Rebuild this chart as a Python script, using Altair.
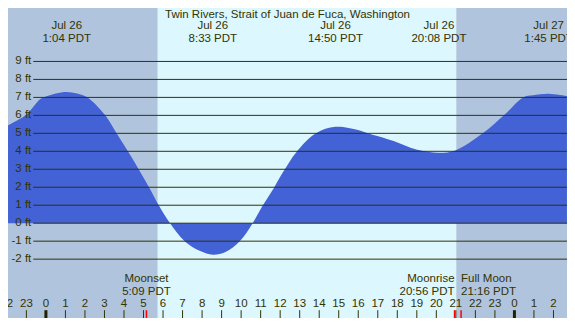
import altair as alt
import pandas as pd

# ---- data (hours after midnight Jul 26, PDT) ----
tide_hours = [-1.94, -1.0, -0.3, 0.0, 0.5, 1.07, 1.6, 2.13, 3.04, 3.62, 4.2, 4.78,
              5.36, 5.78, 6.36, 7.11, 7.9, 8.55, 9.2, 9.93, 10.59, 11.09, 11.67, 12.18,
              12.83, 13.83, 14.83, 15.99, 16.48, 17.81, 18.97, 20.13, 20.97, 22.38, 23.46,
              24.45, 24.95, 25.75, 26.69]
tide_ft = [5.45, 6.05, 6.9, 7.05, 7.22, 7.3, 7.22, 7.0, 6.0, 5.0, 4.0, 2.95,
           1.85, 1.0, 0.0, -1.0, -1.55, -1.75, -1.6, -1.0, 0.0, 0.95, 1.95, 2.9,
           3.95, 5.0, 5.36, 5.18, 5.0, 4.57, 4.1, 3.92, 4.05, 5.0, 6.0,
           7.0, 7.12, 7.2, 7.07]

extreme_hours = [1.067, 8.55, 14.833, 20.133, 25.75]
extreme_dates = ["Jul 26", "Jul 26", "Jul 26", "Jul 26", "Jul 27"]
extreme_times = ["1:04 PDT", "8:33 PDT", "14:50 PDT", "20:08 PDT", "1:45 PDT"]

sunrise_hour = 5.73
sunset_hour = 21.02

grid_ft = [-2, -1, 0, 1, 2, 3, 4, 5, 6, 7, 8, 9]
grid_labels = ["-2 ft", "-1 ft", "0 ft", "1 ft", "2 ft", "3 ft", "4 ft", "5 ft",
               "6 ft", "7 ft", "8 ft", "9 ft"]

hour_ticks = list(range(-2, 27))
hour_labels = [str(h % 24) for h in hour_ticks]

moon_hours = [5.15, 20.933, 21.267]
moon_names = ["Moonset", "Moonrise", "Full Moon"]
moon_times = ["5:09 PDT", "20:56 PDT", "21:16 PDT"]
moon_align = ["center", "right", "left"]

title_text = "Twin Rivers, Strait of Juan de Fuca, Washington"

# ---- layout / style ----
W, H = 559, 310
X_DOM = [-1.942, 26.693]
Y_DOM = [-5.275, 11.974]
LINE_START = -0.647
TITLE_FT = 11.612
EXT_FT = [10.945, 10.249]
MOON_FT = [-3.132, -3.828]
HOUR_FT = -4.523
TICK_TOP_FT = -4.84

NIGHT = "#B0C4DE"
DAY = "#DDF7FF"
TIDE = "#4262D6"
INK = "#333300"
FONT = "Liberation Sans"
FS = 11.5

xs = alt.Scale(domain=X_DOM, nice=False, zero=False)
ys = alt.Scale(domain=Y_DOM, nice=False, zero=False)
X = lambda f: alt.X(f, type="quantitative", scale=xs, axis=None)
Y = lambda f: alt.Y(f, type="quantitative", scale=ys, axis=None)

bg_df = pd.DataFrame({
    "s": [X_DOM[0], sunrise_hour, sunset_hour],
    "e": [sunrise_hour, sunset_hour, X_DOM[1]],
    "kind": ["night", "day", "night"],
})
bg = alt.Chart(bg_df).mark_rect().encode(
    x=X("s"), x2="e", y=alt.value(0), y2=alt.value(H),
    color=alt.Color("kind:N", scale=alt.Scale(domain=["night", "day"], range=[NIGHT, DAY]), legend=None),
)

tide_df = pd.DataFrame({"h": tide_hours, "ft": tide_ft})
area = alt.Chart(tide_df).mark_area(color=TIDE, interpolate="catmull-rom").encode(
    x=X("h"), y=Y("ft"), y2=alt.value(H)
)

grid_df = pd.DataFrame({"ft": grid_ft, "label": grid_labels,
                        "x0": LINE_START, "x1": X_DOM[1]})
grid = alt.Chart(grid_df).mark_rule(color=INK, strokeWidth=1).encode(
    x=X("x0"), x2="x1", y=Y("ft")
)
grid_text = alt.Chart(grid_df).mark_text(
    align="right", baseline="middle", dx=-2, font=FONT, fontSize=FS, color=INK
).encode(x=X("x0"), y=Y("ft"), text="label:N")

title_df = pd.DataFrame({"x": [(X_DOM[0] + X_DOM[1]) / 2], "y": [TITLE_FT], "t": [title_text]})
title = alt.Chart(title_df).mark_text(
    align="center", baseline="middle", font=FONT, fontSize=FS, color=INK
).encode(x=X("x"), y=Y("y"), text="t:N")

ext_rows = []
for h, d, t in zip(extreme_hours, extreme_dates, extreme_times):
    ext_rows.append({"h": h, "y": EXT_FT[0], "t": d})
    ext_rows.append({"h": h, "y": EXT_FT[1], "t": t})
ext = alt.Chart(pd.DataFrame(ext_rows)).mark_text(
    align="center", baseline="middle", font=FONT, fontSize=FS, color=INK
).encode(x=X("h"), y=Y("y"), text="t:N")

hour_df = pd.DataFrame({"h": hour_ticks, "label": hour_labels,
                        "y": HOUR_FT, "top": TICK_TOP_FT, "bot": Y_DOM[0]})
hour_text = alt.Chart(hour_df).mark_text(
    align="center", baseline="middle", font=FONT, fontSize=FS, color=INK
).encode(x=X("h"), y=Y("y"), text="label:N")
thin_ticks = alt.Chart(hour_df[hour_df["h"] % 24 != 0]).mark_rule(color=INK, strokeWidth=1).encode(
    x=X("h"), y=Y("top"), y2="bot"
)
mid_ticks = alt.Chart(hour_df[hour_df["h"] % 24 == 0]).mark_rule(color="#222200", strokeWidth=3).encode(
    x=X("h"), y=Y("top"), y2="bot"
)

moon_df = pd.DataFrame({"h": moon_hours, "name": moon_names, "time": moon_times,
                        "align": moon_align, "top": TICK_TOP_FT, "bot": Y_DOM[0]})
moon_ticks = alt.Chart(moon_df).mark_rule(color="#FF0000", strokeWidth=1.5).encode(
    x=X("h"), y=Y("top"), y2="bot"
)
moon_layers = []
for al in ["center", "right", "left"]:
    sub = moon_df[moon_df["align"] == al]
    rows = []
    for _, r in sub.iterrows():
        rows.append({"h": r["h"], "y": MOON_FT[0], "t": r["name"]})
        rows.append({"h": r["h"], "y": MOON_FT[1], "t": r["time"]})
    moon_layers.append(
        alt.Chart(pd.DataFrame(rows)).mark_text(
            align=al, baseline="middle", font=FONT, fontSize=FS, color=INK
        ).encode(x=X("h"), y=Y("y"), text="t:N")
    )

chart = alt.layer(
    bg, area, grid, grid_text, title, ext, hour_text, thin_ticks, mid_ticks, moon_ticks,
    *moon_layers
).properties(
    width=W, height=H, padding=0, autosize=alt.AutoSizeParams(type="none")
).configure_view(strokeWidth=0)

chart.save("out.html", embed_options={"renderer": "svg", "actions": False})
